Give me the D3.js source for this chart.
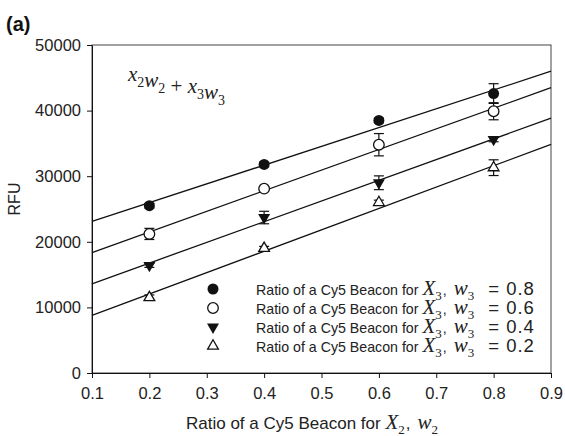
<!DOCTYPE html>
<html>
<head>
<meta charset="utf-8">
<script src="https://cdn.jsdelivr.net/npm/d3@7"></script>
<style>
body{margin:0;background:#fff}
text{font-family:"Liberation Sans",Arial,sans-serif;fill:#222}
.m{font-family:"Liberation Serif","Times New Roman",serif;font-style:italic}
</style>
</head>
<body>
<div id="chart"></div>
<script>
// ratio of Cy5 beacon for X2 (x axis)
var w2 = [0.2, 0.4, 0.6, 0.8]
var w3Labels = ["0.8", "0.6", "0.4", "0.2"]

// RFU per series (w3 = 0.8, 0.6, 0.4, 0.2)
var rfu08 = [25500, 31800, 38500, 42600]
var rfu06 = [21200, 28100, 34800, 39900]
var rfu04 = [16400, 23700, 29000, 35600]
var rfu02 = [11500, 19000, 26000, 31300]

// error bars (+/-)
var err08 = [350, 350, 350, 1500]
var err06 = [850, 300, 1700, 1300]
var err04 = [300, 950, 1050, 350]
var err02 = [400, 300, 350, 1200]

// fitted lines, value at each end of the x range
var fitX = [0.1, 0.9]
var fit08 = [23100, 46000]
var fit06 = [18350, 43500]
var fit04 = [13600, 38850]
var fit02 = [8800, 34850]

var xTicks = [0.1, 0.2, 0.3, 0.4, 0.5, 0.6, 0.7, 0.8, 0.9]
var yTicks = [0, 10000, 20000, 30000, 40000, 50000]

var series = [
  {name: w3Labels[0], y: rfu08, err: err08, fit: fit08, sym: "dot"},
  {name: w3Labels[1], y: rfu06, err: err06, fit: fit06, sym: "ring"},
  {name: w3Labels[2], y: rfu04, err: err04, fit: fit04, sym: "down"},
  {name: w3Labels[3], y: rfu02, err: err02, fit: fit02, sym: "up"}
]

var W = 565, H = 436
var mLeft = 92, mRight = 551, mTop = 45, mBottom = 373

var svg = d3.select("#chart").append("svg")
  .attr("width", W)
  .attr("height", H)

var x = d3.scaleLinear().domain([0.1, 0.9]).range([mLeft, mRight])
var y = d3.scaleLinear().domain([0, 50000]).range([mBottom, mTop])

// frame
svg.append("rect")
  .attr("x", mLeft).attr("y", mTop)
  .attr("width", mRight - mLeft).attr("height", mBottom - mTop)
  .attr("fill", "none").attr("stroke", "#444").attr("stroke-width", 1)

var xAxis = svg.append("g")
  .attr("transform", "translate(0," + mBottom + ")")
  .call(d3.axisBottom(x).tickValues(xTicks).tickSize(5).tickSizeOuter(0).tickFormat(d3.format(".1f")))
var yAxis = svg.append("g")
  .attr("transform", "translate(" + mLeft + ",0)")
  .call(d3.axisLeft(y).tickValues(yTicks).tickSize(5).tickSizeOuter(0).tickFormat(d3.format("d")))

;[xAxis, yAxis].forEach(function(a){
  a.select(".domain").attr("stroke", "#111")
  a.selectAll(".tick line").attr("stroke", "#111")
  a.selectAll(".tick text").attr("font-size", "16.5px").attr("fill", "#222")
    .attr("font-family", "Liberation Sans, Arial, sans-serif")
})
xAxis.selectAll(".tick text").attr("dy", "1.1em")
yAxis.selectAll(".tick text").attr("x", -11)

// titles
svg.append("text").attr("x", 6).attr("y", 31)
  .attr("font-size", "20px").attr("font-weight", "bold").style("fill", "#111").text("(a)")

svg.append("text")
  .attr("transform", "translate(20,199) rotate(-90)")
  .attr("text-anchor", "middle").attr("font-size", "16px").text("RFU")

function mathLabel(t, sub, size){
  t.append("tspan").attr("class", "m").attr("font-size", size + "px").text("X")
  t.append("tspan").attr("font-size", "13px").attr("dy", 5).attr("class", "m").style("font-style", "normal").text(sub)
  t.append("tspan").attr("dy", -5).attr("dx", 1).text(",")
  t.append("tspan").attr("class", "m").attr("font-size", size + "px").attr("dx", 7).text("w")
  t.append("tspan").attr("font-size", "13px").attr("dy", 5).attr("class", "m").style("font-style", "normal").text(sub)
}

var xt = svg.append("text").attr("x", 186).attr("y", 429).attr("font-size", "17px")
xt.append("tspan").text("Ratio of a Cy5 Beacon for ")
mathLabel(xt, "2", 21)

// equation
var eq = svg.append("text").attr("x", 128).attr("y", 81).attr("font-size", "21px").attr("class", "m")
;[["x", "2"], ["w", "2"], null, ["x", "3"], ["w", "3"]].forEach(function(p){
  if (!p) { eq.append("tspan").style("font-style", "normal").text(" + "); return }
  eq.append("tspan").text(p[0])
  eq.append("tspan").attr("dy", 6).attr("font-size", "14px").style("font-style", "normal").text(p[1])
  eq.append("tspan").attr("dy", -6).text("")
})

// fitted lines
var line = d3.line().x(function(d){ return x(d[0]) }).y(function(d){ return y(d[1]) })
svg.append("g").selectAll("path")
  .data(series).enter().append("path")
  .attr("d", function(s){ return line(fitX.map(function(v, i){ return [v, s.fit[i]] })) })
  .attr("fill", "none").attr("stroke", "#111").attr("stroke-width", 1.3)

function drawSym(g, sym){
  if (sym === "dot") {
    g.append("circle").attr("r", 5.5).attr("fill", "#111")
  } else if (sym === "ring") {
    g.append("circle").attr("r", 5.3).attr("fill", "#fff").attr("stroke", "#111").attr("stroke-width", 1.3)
  } else if (sym === "down") {
    g.append("path").attr("d", d3.symbol(d3.symbolTriangle, 62)).attr("transform", "rotate(180)")
      .attr("fill", "#111")
  } else {
    g.append("path").attr("d", d3.symbol(d3.symbolTriangle, 50))
      .attr("fill", "#fff").attr("stroke", "#111").attr("stroke-width", 1.3)
  }
}

// error bars + markers
series.forEach(function(s){
  var pts = w2.map(function(v, i){ return {x: v, y: s.y[i], e: s.err[i]} })
  var eb = svg.append("g").attr("stroke", "#111").attr("stroke-width", 1.2)
  pts.forEach(function(p){
    var cx = x(p.x), y1 = y(p.y + p.e), y2 = y(p.y - p.e)
    eb.append("line").attr("x1", cx).attr("x2", cx).attr("y1", y1).attr("y2", y2)
    eb.append("line").attr("x1", cx - 5).attr("x2", cx + 5).attr("y1", y1).attr("y2", y1)
    eb.append("line").attr("x1", cx - 5).attr("x2", cx + 5).attr("y1", y2).attr("y2", y2)
  })
  pts.forEach(function(p){
    var g = svg.append("g").attr("transform", "translate(" + x(p.x) + "," + y(p.y) + ")")
    drawSym(g, s.sym)
  })
})

// legend
var leg = svg.append("g").selectAll(".legend")
  .data(series).enter().append("g")
  .attr("class", "legend")
  .attr("transform", function(d, i){ return "translate(213," + (289 + i * 19) + ")" })

leg.each(function(d){ drawSym(d3.select(this), d.sym) })

var lt = leg.append("text").attr("x", 43).attr("y", 5.5).attr("font-size", "14.2px")
lt.append("tspan").text("Ratio of a Cy5 Beacon for ")
mathLabel(lt, "3", 21)
lt.append("tspan").attr("dy", -5).attr("dx", 14).attr("font-size", "18.5px")
  .style("letter-spacing", "1px")
  .text(function(d){ return "= " + d.name })
</script>
</body>
</html>
